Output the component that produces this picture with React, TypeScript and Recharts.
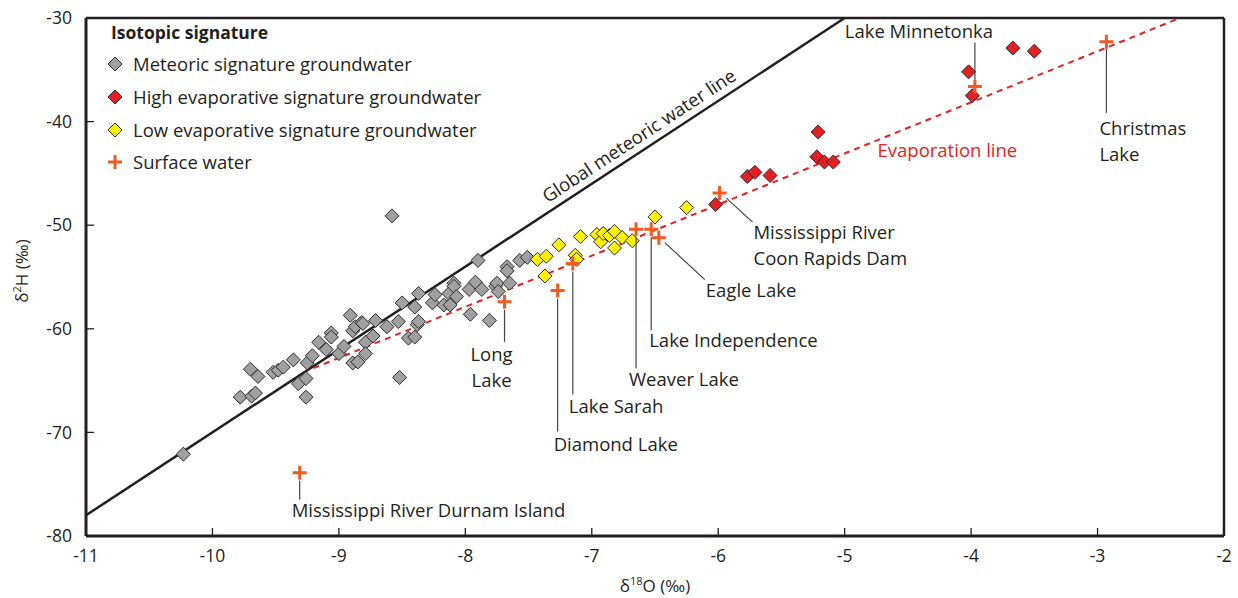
import React from 'react';
import { ScatterChart, Scatter, XAxis, YAxis, ReferenceLine, ReferenceDot, Legend } from 'recharts';

const FONT = "'Open Sans', sans-serif";
const INK = '#231f20';
const TEXT_SIZE = 18.5;

const xTicks = [-11, -10, -9, -8, -7, -6, -5, -4, -3, -2];
const yTicks = [-80, -70, -60, -50, -40, -30];

// groundwater with meteoric signature (δ18O, δ2H)
const meteoric = [
  { x: -10.23, y: -72.1 }, { x: -9.78, y: -66.6 }, { x: -9.69, y: -66.5 }, { x: -9.66, y: -66.2 },
  { x: -9.26, y: -66.6 }, { x: -9.32, y: -65.3 }, { x: -9.26, y: -64.8 }, { x: -9.7, y: -63.9 },
  { x: -9.64, y: -64.6 }, { x: -9.52, y: -64.2 }, { x: -9.48, y: -64.0 }, { x: -9.44, y: -63.7 },
  { x: -9.36, y: -63.0 }, { x: -9.25, y: -63.3 }, { x: -9.21, y: -62.6 }, { x: -9.16, y: -61.3 },
  { x: -9.1, y: -62.0 }, { x: -9.06, y: -60.4 }, { x: -9.06, y: -60.8 }, { x: -9.0, y: -62.4 },
  { x: -8.96, y: -61.7 }, { x: -8.91, y: -58.7 }, { x: -8.89, y: -60.2 }, { x: -8.89, y: -63.3 },
  { x: -8.85, y: -63.2 }, { x: -8.87, y: -59.8 }, { x: -8.82, y: -59.4 }, { x: -8.81, y: -59.5 },
  { x: -8.79, y: -61.3 }, { x: -8.79, y: -62.4 }, { x: -8.73, y: -60.7 }, { x: -8.71, y: -59.2 },
  { x: -8.62, y: -59.8 }, { x: -8.53, y: -59.3 }, { x: -8.52, y: -64.7 }, { x: -8.58, y: -49.1 },
  { x: -8.5, y: -57.5 }, { x: -8.45, y: -60.9 }, { x: -8.4, y: -60.8 }, { x: -8.4, y: -57.9 },
  { x: -8.38, y: -59.6 }, { x: -8.37, y: -59.3 }, { x: -8.37, y: -56.6 }, { x: -8.26, y: -57.5 },
  { x: -8.24, y: -56.7 }, { x: -8.17, y: -57.7 }, { x: -8.13, y: -56.6 }, { x: -8.12, y: -57.7 },
  { x: -8.09, y: -55.6 }, { x: -8.09, y: -55.9 }, { x: -8.07, y: -56.9 }, { x: -7.97, y: -56.2 },
  { x: -7.96, y: -58.6 }, { x: -7.92, y: -55.5 }, { x: -7.9, y: -53.4 }, { x: -7.87, y: -56.2 },
  { x: -7.81, y: -59.2 }, { x: -7.76, y: -55.9 }, { x: -7.75, y: -55.6 }, { x: -7.74, y: -56.4 },
  { x: -7.67, y: -54.0 }, { x: -7.67, y: -54.4 }, { x: -7.65, y: -55.6 }, { x: -7.57, y: -53.4 },
  { x: -7.51, y: -53.1 },
];

const lowEvap = [
  { x: -7.43, y: -53.3 }, { x: -7.37, y: -54.9 }, { x: -7.36, y: -53.0 }, { x: -7.26, y: -51.9 },
  { x: -7.13, y: -52.9 }, { x: -7.12, y: -53.3 }, { x: -7.09, y: -51.1 }, { x: -6.96, y: -50.9 },
  { x: -6.93, y: -51.6 }, { x: -6.91, y: -50.8 }, { x: -6.86, y: -51.0 }, { x: -6.82, y: -50.6 },
  { x: -6.82, y: -52.2 }, { x: -6.76, y: -51.2 }, { x: -6.68, y: -51.5 }, { x: -6.5, y: -49.2 },
  { x: -6.25, y: -48.3 },
];

const highEvap = [
  { x: -6.02, y: -48.0 }, { x: -5.77, y: -45.3 }, { x: -5.71, y: -44.9 }, { x: -5.59, y: -45.2 },
  { x: -5.21, y: -41.0 }, { x: -5.22, y: -43.4 }, { x: -5.16, y: -43.9 }, { x: -5.09, y: -43.9 },
  { x: -4.02, y: -35.2 }, { x: -3.99, y: -37.5 }, { x: -3.67, y: -32.9 }, { x: -3.5, y: -33.2 },
];

const surfaceWater = [
  { x: -9.31, y: -73.9, name: 'Mississippi River Durnam Island' },
  { x: -7.69, y: -57.4, name: 'Long Lake' },
  { x: -7.27, y: -56.3, name: 'Diamond Lake' },
  { x: -7.15, y: -53.7, name: 'Lake Sarah' },
  { x: -6.65, y: -50.4, name: 'Weaver Lake' },
  { x: -6.53, y: -50.4, name: 'Lake Independence' },
  { x: -6.47, y: -51.2, name: 'Eagle Lake' },
  { x: -5.99, y: -46.9, name: 'Mississippi River Coon Rapids Dam' },
  { x: -3.97, y: -36.6, name: 'Lake Minnetonka' },
  { x: -2.93, y: -32.3, name: 'Christmas Lake' },
];

const gmwl = [{ x: -11, y: -78 }, { x: -5, y: -30 }];
const evapLine = [{ x: -9.2, y: -63.8 }, { x: -2.35, y: -30 }];

// label placement for surface water points (pixel offsets from the cross)
type LabelCfg = { lines: string[]; dx: number; dy: number[]; anchor: 'start' | 'middle'; leader: [number, number, number, number] };
const labelCfg: Record<string, LabelCfg> = {
  'Mississippi River Durnam Island': { lines: ['Mississippi River Durnam Island'], dx: -8, dy: [44], anchor: 'start', leader: [0, 8, 0, 27] },
  'Long Lake': { lines: ['Long', 'Lake'], dx: -13, dy: [59, 85], anchor: 'middle', leader: [0, 8, 0, 40] },
  'Diamond Lake': { lines: ['Diamond Lake'], dx: -4, dy: [161], anchor: 'start', leader: [0, 8, 0, 141] },
  'Lake Sarah': { lines: ['Lake Sarah'], dx: -4, dy: [149], anchor: 'start', leader: [0, 8, 0, 131] },
  'Weaver Lake': { lines: ['Weaver Lake'], dx: -7, dy: [157], anchor: 'start', leader: [0, 8, 0, 139] },
  'Lake Independence': { lines: ['Lake Independence'], dx: -2, dy: [118], anchor: 'start', leader: [0, 8, 0, 101] },
  'Eagle Lake': { lines: ['Eagle Lake'], dx: 47, dy: [59], anchor: 'start', leader: [6, 5, 46, 42] },
  'Mississippi River Coon Rapids Dam': { lines: ['Mississippi River', 'Coon Rapids Dam'], dx: 34, dy: [46, 72], anchor: 'start', leader: [7, 5, 33, 29] },
  'Lake Minnetonka': { lines: ['Lake Minnetonka'], dx: -56, dy: [-48], anchor: 'middle', leader: [0, -7, 0, -44] },
  'Christmas Lake': { lines: ['Christmas', 'Lake'], dx: -7, dy: [93, 119], anchor: 'start', leader: [0, 7, 0, 71] },
};

const makeDiamond = (fill: string) => (props: any) => {
  const { cx, cy } = props;
  const r = 7;
  return <path d={`M${cx},${cy - r}L${cx + r},${cy}L${cx},${cy + r}L${cx - r},${cy}Z`} fill={fill} stroke="#2b2b2b" strokeWidth={1} />;
};

const CrossLabel = (props: any) => {
  const { cx, cy, payload } = props;
  const cfg = labelCfg[payload.name];
  const a = 7;
  return (
    <g>
      {cfg && (
        <line x1={cx + cfg.leader[0]} y1={cy + cfg.leader[1]} x2={cx + cfg.leader[2]} y2={cy + cfg.leader[3]} stroke="#444" strokeWidth={1.2} />
      )}
      <path d={`M${cx - a},${cy}H${cx + a}M${cx},${cy - a}V${cy + a}`} stroke="#f15a22" strokeWidth={3} />
      {cfg && cfg.lines.map((t, i) => (
        <text key={i} x={cx + cfg.dx} y={cy + cfg.dy[i]} textAnchor={cfg.anchor} fontFamily={FONT} fontSize={TEXT_SIZE} fill={INK}>{t}</text>
      ))}
    </g>
  );
};

const XTick = (props: any) => {
  const { x, y, payload } = props;
  return (
    <g>
      <line x1={x} y1={y - 14} x2={x} y2={y - 22} stroke={INK} strokeWidth={1.3} />
      <text x={x} y={y} dy="0.71em" textAnchor="middle" fontFamily={FONT} fontSize={17.5} fill={INK}>{payload.value}</text>
    </g>
  );
};

const YTick = (props: any) => {
  const { x, y, payload } = props;
  return (
    <g>
      <line x1={x + 14} y1={y} x2={x + 22} y2={y} stroke={INK} strokeWidth={1.3} />
      <text x={x} y={y} dy="0.35em" textAnchor="end" fontFamily={FONT} fontSize={17.5} fill={INK}>{payload.value}</text>
    </g>
  );
};

const XTitle = (props: any) => {
  const { viewBox } = props;
  const cx = viewBox.x + viewBox.width / 2;
  return (
    <text x={cx} y={viewBox.y + 56} textAnchor="middle" fontFamily={FONT} fontSize={17} fill={INK}>
      δ<tspan fontSize={11} dy={-7}>18</tspan><tspan dy={7}>O (‰)</tspan>
    </text>
  );
};

const YTitle = (props: any) => {
  const { viewBox } = props;
  const cy = viewBox.y + viewBox.height / 2 - 6;
  const cx = 28;
  return (
    <text x={cx} y={cy} transform={`rotate(-90, ${cx}, ${cy})`} textAnchor="middle" fontFamily={FONT} fontSize={17} fill={INK}>
      δ<tspan fontSize={11} dy={-7}>2</tspan><tspan dy={7}>H (‰)</tspan>
    </text>
  );
};

const legendItems = [
  { label: 'Meteoric signature groundwater', color: '#a0a0a0', kind: 'diamond' },
  { label: 'High evaporative signature groundwater', color: '#e31e24', kind: 'diamond' },
  { label: 'Low evaporative signature groundwater', color: '#fff200', kind: 'diamond' },
  { label: 'Surface water', color: '#f15a22', kind: 'cross' },
];

const LegendBox = () => (
  <div style={{ fontFamily: FONT, fontSize: TEXT_SIZE, color: INK, lineHeight: '24px' }}>
    <div style={{ fontWeight: 700, fontSize: 17.5, height: 28, marginLeft: 4 }}>Isotopic signature</div>
    {legendItems.map((it) => (
      <div key={it.label} style={{ display: 'flex', alignItems: 'center', height: 32.7 }}>
        <svg width={16} height={16} style={{ marginRight: 10 }}>
          {it.kind === 'diamond' ? (
            <path d="M8,1L15,8L8,15L1,8Z" fill={it.color} stroke="#2b2b2b" strokeWidth={1} />
          ) : (
            <path d="M1,8H15M8,1V15" stroke={it.color} strokeWidth={3} />
          )}
        </svg>
        <span>{it.label}</span>
      </div>
    ))}
  </div>
);

const App: React.FC = () => {
  return (
    <div style={{ position: 'absolute', left: 0, top: 0, background: '#fff' }}>
      <ScatterChart width={1238} height={598} margin={{ top: 18, right: 14, bottom: 22, left: 26 }}>
        <XAxis
          type="number"
          dataKey="x"
          domain={[-11, -2]}
          ticks={xTicks}
          interval={0}
          height={40}
          tickSize={0}
          tickMargin={14}
          tickLine={false}
          tick={<XTick />}
          axisLine={{ stroke: INK, strokeWidth: 3 }}
          label={{ content: (p: any) => <XTitle {...p} /> }}
        />
        <YAxis
          type="number"
          dataKey="y"
          domain={[-80, -30]}
          ticks={yTicks}
          interval={0}
          width={60}
          tickSize={0}
          tickMargin={14}
          tickLine={false}
          tick={<YTick />}
          axisLine={{ stroke: INK, strokeWidth: 3 }}
          label={{ content: (p: any) => <YTitle {...p} /> }}
        />
        <ReferenceLine y={-30} stroke={INK} strokeWidth={2.5} />
        <ReferenceLine x={-2} stroke={INK} strokeWidth={2.5} />
        <ReferenceLine segment={gmwl} stroke={INK} strokeWidth={2.5} />
        <ReferenceLine segment={evapLine} stroke="#e31e24" strokeWidth={2} strokeDasharray="6 5" />
        <ReferenceDot
          x={-6.62}
          y={-41.5}
          r={0}
          shape={(p: any) => (
            <text x={p.cx} y={p.cy} transform={`rotate(-33.3, ${p.cx}, ${p.cy})`} textAnchor="middle" dominantBaseline="middle" fontFamily={FONT} fontSize={TEXT_SIZE} fill={INK}>
              Global meteoric water line
            </text>
          )}
        />
        <ReferenceDot
          x={-4.74}
          y={-42.9}
          r={0}
          shape={(p: any) => (
            <text x={p.cx} y={p.cy} textAnchor="start" dominantBaseline="middle" fontFamily={FONT} fontSize={TEXT_SIZE} fill="#e31e24">
              Evaporation line
            </text>
          )}
        />
        <Scatter name="Meteoric signature groundwater" data={meteoric} shape={makeDiamond('#a0a0a0')} isAnimationActive={false} />
        <Scatter name="Low evaporative signature groundwater" data={lowEvap} shape={makeDiamond('#fff200')} isAnimationActive={false} />
        <Scatter name="High evaporative signature groundwater" data={highEvap} shape={makeDiamond('#e31e24')} isAnimationActive={false} />
        <Scatter name="Surface water" data={surfaceWater} shape={<CrossLabel />} isAnimationActive={false} />
        <Legend
          layout="horizontal"
          verticalAlign="middle"
          align="center"
          wrapperStyle={{ top: 20, left: 107, width: 460 }}
          content={() => <LegendBox />}
        />
      </ScatterChart>
    </div>
  );
};

export default App;
